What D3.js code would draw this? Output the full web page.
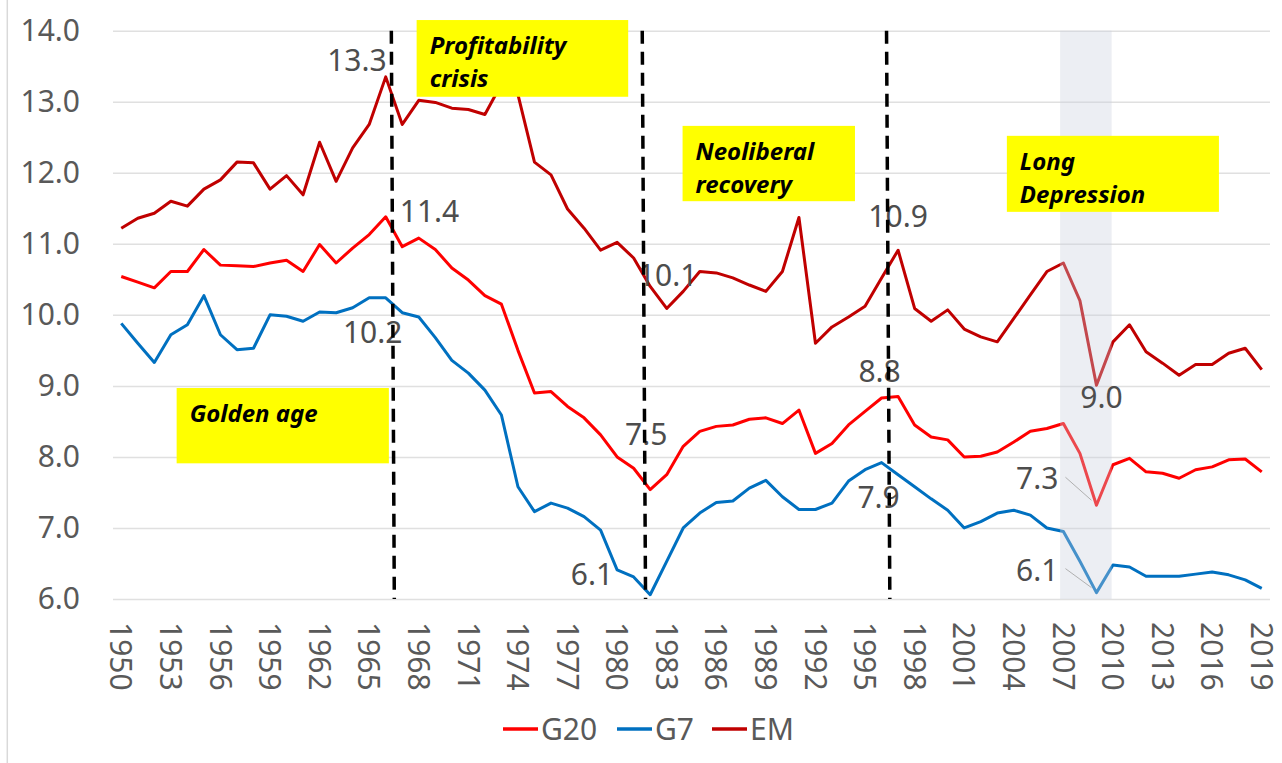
<!DOCTYPE html>
<html><head><meta charset="utf-8">
<script src="https://cdn.jsdelivr.net/npm/d3@7"></script>
<style>body{margin:0;background:#fff} svg{display:block}</style>
</head><body>
<svg id="chart" width="1282" height="763"></svg>
<script>
// ---------- data ----------
const years = d3.range(1950, 2020);
const tickYears = [1950,1953,1956,1959,1962,1965,1968,1971,1974,1977,1980,1983,1986,1989,1992,1995,1998,2001,2004,2007,2010,2013,2016,2019];
const yTicks = [6,7,8,9,10,11,12,13,14];

const g20 = [10.54,10.46,10.38,10.61,10.61,10.92,10.70,10.69,10.68,10.73,
             10.77,10.61,10.99,10.73,10.94,11.13,11.38,10.96,11.08,10.92,
             10.66,10.49,10.27,10.15,9.50,8.90,8.92,8.71,8.55,8.31,
             8.00,7.84,7.54,7.75,8.15,8.36,8.43,8.45,8.53,8.55,
             8.47,8.66,8.05,8.19,8.45,8.64,8.83,8.85,8.45,8.28,
             8.24,8.00,8.01,8.07,8.21,8.36,8.40,8.47,8.05,7.32,
             7.89,7.98,7.79,7.77,7.70,7.82,7.86,7.96,7.97,7.79];
const g7 = [9.88,9.60,9.33,9.72,9.86,10.27,9.72,9.51,9.53,10.00,
            9.98,9.91,10.04,10.03,10.10,10.24,10.24,10.03,9.97,9.68,
            9.36,9.18,8.94,8.59,7.58,7.23,7.35,7.28,7.16,6.97,
            6.41,6.31,6.06,6.53,7.00,7.21,7.36,7.38,7.56,7.67,
            7.44,7.26,7.26,7.35,7.66,7.82,7.92,7.75,7.58,7.41,
            7.25,7.00,7.09,7.21,7.25,7.18,7.00,6.95,6.53,6.09,
            6.48,6.45,6.32,6.32,6.32,6.35,6.38,6.34,6.27,6.15];
const em = [11.22,11.36,11.43,11.60,11.53,11.77,11.90,12.15,12.14,11.77,
            11.96,11.69,12.43,11.88,12.35,12.68,13.35,12.68,13.02,12.99,
            12.91,12.89,12.82,13.25,13.10,12.15,11.97,11.49,11.22,10.91,
            11.02,10.80,10.40,10.09,10.33,10.61,10.59,10.52,10.42,10.33,
            10.61,11.37,9.60,9.83,9.97,10.12,10.52,10.91,10.09,9.91,
            10.07,9.80,9.69,9.62,9.95,10.28,10.61,10.73,10.20,9.01,
            9.62,9.86,9.48,9.32,9.15,9.30,9.30,9.46,9.53,9.23];

const seriesNames = ["G20", "G7", "EM"];
const seriesValues = [g20, g7, em];
const seriesColors = ["#ff0000", "#0070c0", "#c00000"];

const periodLines = [["Golden age"], ["Profitability", "crisis"], ["Neoliberal", "recovery"], ["Long", "Depression"]];
const periodYears = [[1953.35, 1966.19], [1967.87, 1980.67], [1983.96, 1994.39], [2003.58, 2016.41]];
const periodValues = [[8.97, 7.91], [14.15, 13.07], [12.66, 11.60], [12.52, 11.45]];

const breakYears = [[1966.34, 1966.52], [1981.52, 1981.72], [1996.30, 1996.50]];
const shadeYears = [2006.8, 2009.92];

// labelled points: series index, year, text
const labelSeries = [2, 0, 1, 2, 0, 1, 2, 0, 1, 2, 0, 1];
const labelYears  = [1966, 1966, 1966, 1983, 1982, 1982, 1997, 1996, 1996, 2009, 2009, 2009];
const labelTexts  = ["13.3", "11.4", "10.2", "10.1", "7.5", "6.1", "10.9", "8.8", "7.9", "9.0", "7.3", "6.1"];

// ---------- layout ----------
const svg = d3.select("#chart");
const pL = 113, pR = 1270, pT = 30.7, pB = 599;
const xBand = d3.scaleBand().domain(years).range([pL, pR]);
const xc = yr => xBand(yr) + xBand.bandwidth() / 2;
const xLin = d3.scaleLinear().domain([1950, 2019]).range([xc(1950), xc(2019)]);
const y = d3.scaleLinear().domain([6, 14]).range([pB, pT]);
const FONT = "'Noto Sans', 'Open Sans', sans-serif";
const GRAY = "#595959";

// label placement offsets (text-anchor, dx, dy)
const labelPlace = [
  ["end", 1, -6], ["start", 14, 5], ["middle", -13, 45], ["middle", 1, -22],
  ["middle", -4, -45], ["end", -37, -10], ["middle", 0, -23], ["middle", -2, -16],
  ["middle", -3, 45], ["middle", 5, 23], ["end", -38, -16], ["end", -38, -12]
];

// left border
svg.append("line").attr("x1", 7.3).attr("x2", 7.3).attr("y1", 0).attr("y2", 763)
  .attr("stroke", "#d9d9d9").attr("stroke-width", 1.5);

// grid
const grid = svg.append("g").attr("transform", `translate(${pL},0)`)
  .call(d3.axisLeft(y).tickValues(yTicks).tickSize(-(pR - pL)).tickFormat(""));
grid.select(".domain").remove();
grid.selectAll("line").attr("stroke", "#e0e0e0").attr("stroke-width", 1.5);

// y axis labels
const yAxis = svg.append("g").attr("transform", `translate(${pL},0)`)
  .call(d3.axisLeft(y).tickValues(yTicks).tickSize(0).tickPadding(33).tickFormat(d3.format(".1f")));
yAxis.select(".domain").remove();
yAxis.selectAll("text").attr("font-family", FONT).attr("font-size", 30).attr("fill", GRAY);

// x axis labels
const xAxis = svg.append("g").attr("transform", `translate(0,${pB})`)
  .call(d3.axisBottom(xBand).tickValues(tickYears).tickSize(0));
xAxis.select(".domain").remove();
xAxis.selectAll("text")
  .attr("font-family", FONT).attr("font-size", 30).attr("fill", GRAY)
  .attr("x", 23).attr("y", 0).attr("dy", "0.36em")
  .attr("transform", "rotate(90)").style("text-anchor", "start");

// series
const line = d3.line().x((d, i) => xc(years[i])).y(d => y(d));
seriesValues.forEach((vals, k) => {
  svg.append("path").datum(vals).attr("d", line)
    .attr("fill", "none").attr("stroke", seriesColors[k]).attr("stroke-width", 3)
    .attr("stroke-linejoin", "round");
});

// shaded recession band
svg.append("rect")
  .attr("x", xLin(shadeYears[0])).attr("width", xLin(shadeYears[1]) - xLin(shadeYears[0]))
  .attr("y", pT).attr("height", pB - pT)
  .attr("fill", "#c8cedd").attr("fill-opacity", 0.35);

// leader lines for 2009 labels
[10, 11].forEach(i => {
  const px = xc(labelYears[i]), py = y(seriesValues[labelSeries[i]][years.indexOf(labelYears[i])]);
  svg.append("line").attr("x1", px + labelPlace[i][1] + 7).attr("y1", py + labelPlace[i][2] - 12)
    .attr("x2", px - 5).attr("y2", py - 5).attr("stroke", "#b0b0b0").attr("stroke-width", 1);
});

// data labels
labelTexts.forEach((t, i) => {
  const px = xc(labelYears[i]), py = y(seriesValues[labelSeries[i]][years.indexOf(labelYears[i])]);
  svg.append("text").text(t)
    .attr("x", px + labelPlace[i][1]).attr("y", py + labelPlace[i][2])
    .attr("text-anchor", labelPlace[i][0])
    .attr("font-family", FONT).attr("font-size", 30).attr("fill", "#4d4d4d");
});

// dashed period breaks
breakYears.forEach(b => {
  svg.append("line").attr("x1", xLin(b[0])).attr("x2", xLin(b[1]))
    .attr("y1", y(14)).attr("y2", y(6))
    .attr("stroke", "#000").attr("stroke-width", 3.5).attr("stroke-dasharray", "13,8");
});

// period boxes
periodLines.forEach((lines, i) => {
  const x0 = xLin(periodYears[i][0]), x1 = xLin(periodYears[i][1]);
  const y0 = y(periodValues[i][0]), y1 = y(periodValues[i][1]);
  svg.append("rect").attr("x", x0).attr("y", y0).attr("width", x1 - x0).attr("height", y1 - y0)
    .attr("fill", "#ffff00");
  lines.forEach((s, j) => {
    svg.append("text").text(s).attr("x", x0 + 13).attr("y", y0 + 34 + j * 33)
      .attr("font-family", FONT).attr("font-size", 24).attr("font-weight", "bold")
      .attr("font-style", "italic").attr("fill", "#000");
  });
});

// legend
const legendX = [503, 617, 712];
seriesNames.forEach((n, k) => {
  svg.append("line").attr("x1", legendX[k]).attr("x2", legendX[k] + 35)
    .attr("y1", 729).attr("y2", 729).attr("stroke", seriesColors[k]).attr("stroke-width", 3.5);
  svg.append("text").text(n).attr("x", legendX[k] + 38).attr("y", 740)
    .attr("font-family", FONT).attr("font-size", 30).attr("fill", GRAY);
});
</script>
</body></html>
